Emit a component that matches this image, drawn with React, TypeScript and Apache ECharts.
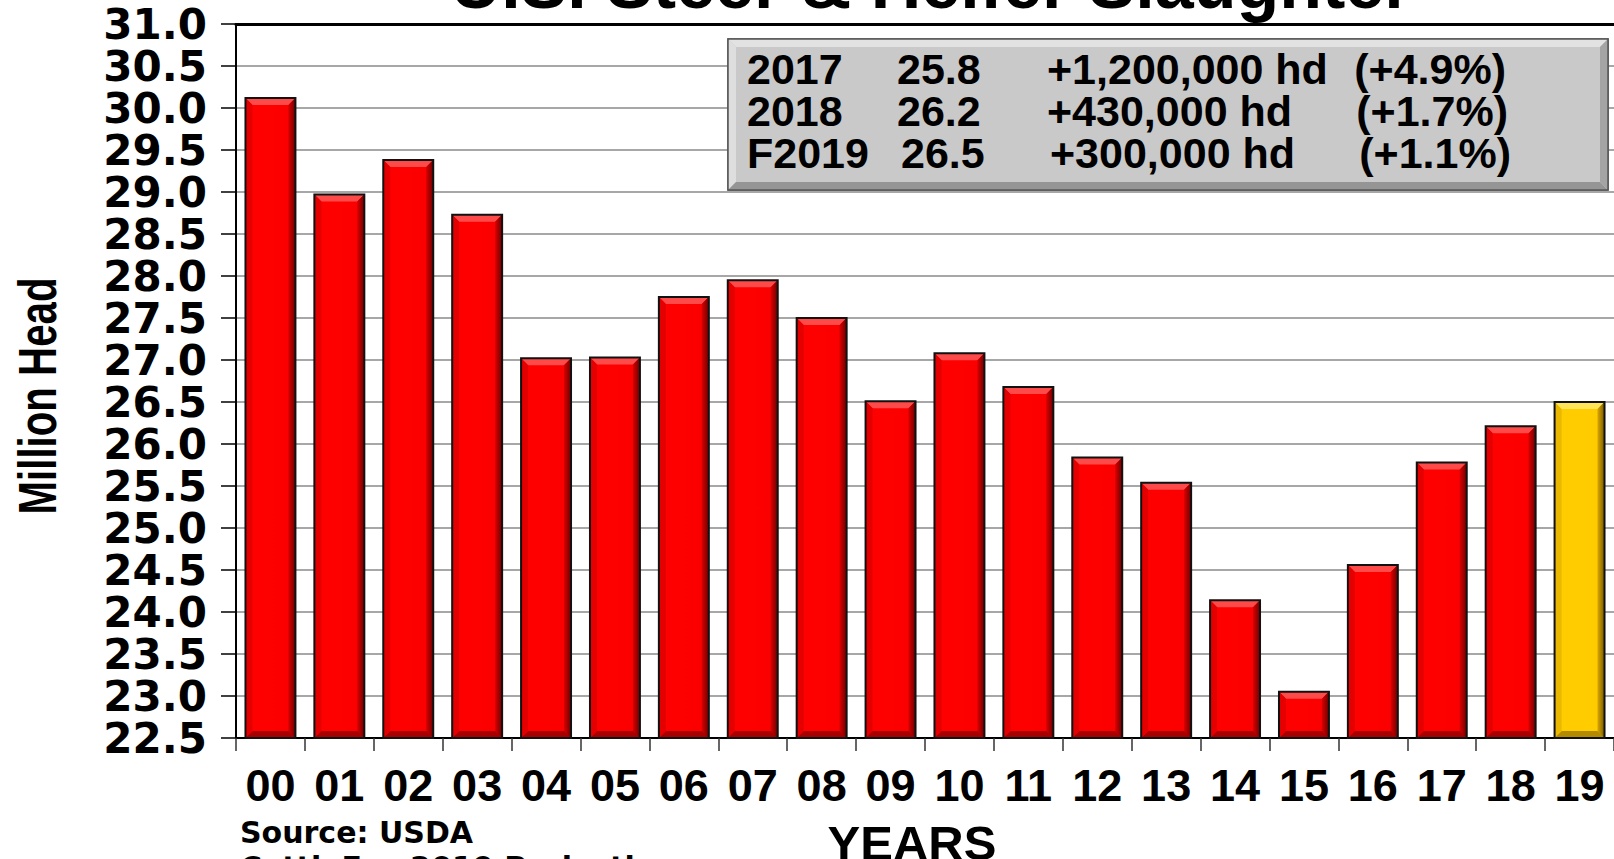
import React, { useEffect, useRef } from "react";
import * as echarts from "echarts";

const years = ["00","01","02","03","04","05","06","07","08","09","10","11","12","13","14","15","16","17","18","19"];
const slaughter = [30.12, 28.97, 29.38, 28.73, 27.02, 27.03, 27.75, 27.95, 27.5, 26.51, 27.08, 26.68, 25.84, 25.54, 24.14, 23.05, 24.56, 25.78, 26.21, 26.5];
const forecastIndex = 19;
const yMin = 22.5;
const yMax = 31;
const yStep = 0.5;
const titleText = "U.S. Steer & Heifer Slaughter";
const yName = "Million Head";
const xName = "YEARS";
const sourceLines = ["Source: USDA", "CattleFax 2019 Projection"];
const boxYears = ["2017", "2018", "F2019"];
const boxValues = ["25.8", "26.2", "26.5"];
const boxChanges = ["+1,200,000 hd", "+430,000 hd", "+300,000 hd"];
const boxPercents = ["(+4.9%)", "(+1.7%)", "(+1.1%)"];

const W = 1614;
const H = 859;
const GRID_LEFT = 236;
const GRID_TOP = 24;
const GRID_W = 1381;
const GRID_H = 714;

const SANS = "'Liberation Sans', Arial, Helvetica, sans-serif";
const WIDE = "'DejaVu Sans', Verdana, sans-serif";

function lin(stops: [number, string][], horizontal = true) {
  return {
    type: "linear",
    x: 0,
    y: 0,
    x2: horizontal ? 1 : 0,
    y2: horizontal ? 0 : 1,
    colorStops: stops.map(([offset, color]) => ({ offset, color })),
  };
}

export default function App() {
  const ref = useRef<HTMLDivElement>(null);

  useEffect(() => {
    if (!ref.current) return;
    const chart = echarts.init(ref.current, null, { renderer: "svg" });

    const barData = slaughter.map((v, i) => [i, v]);

    const renderBar = (params: any, api: any) => {
      const idx = api.value(0);
      const v = api.value(1);
      const top = api.coord([idx, v]);
      const base = api.coord([idx, yMin]);
      const w = api.size([1, 0])[0] * 0.725;
      const x0 = top[0] - w / 2;
      const x1 = top[0] + w / 2;
      const y0 = top[1];
      const y1 = base[1];
      const b = 7;
      const f = idx === forecastIndex;
      const main = f
        ? lin([[0, "#e0ac00"], [0.12, "#ffcc00"], [0.85, "#ffcc00"], [1, "#a87e00"]])
        : lin([[0, "#d00000"], [0.12, "#ff0000"], [0.85, "#fb0000"], [1, "#8a0000"]]);
      const light = f ? "#ffe45a" : "#ff4a4a";
      const dark = f ? "#b48a00" : "#a80000";
      const left = f ? "#eab800" : "#e40000";
      const right = f ? lin([[0, "#d9a600"], [1, "#7a5a00"]]) : lin([[0, "#d80000"], [1, "#6e0000"]]);
      return {
        type: "group",
        children: [
          { type: "rect", shape: { x: x0, y: y0, width: w, height: y1 - y0 }, style: { fill: main } },
          { type: "polygon", shape: { points: [[x0, y0], [x1, y0], [x1 - b, y0 + b], [x0 + b, y0 + b]] }, style: { fill: light } },
          { type: "polygon", shape: { points: [[x0, y1], [x1, y1], [x1 - b, y1 - b], [x0 + b, y1 - b]] }, style: { fill: dark } },
          { type: "polygon", shape: { points: [[x0, y0], [x0 + b, y0 + b], [x0 + b, y1 - b], [x0, y1]] }, style: { fill: left } },
          { type: "polygon", shape: { points: [[x1, y0], [x1 - b, y0 + b], [x1 - b, y1 - b], [x1, y1]] }, style: { fill: right } },
          { type: "rect", shape: { x: x0, y: y0, width: w, height: y1 - y0 }, style: { fill: "none", stroke: "#111", lineWidth: 2 } },
        ],
      };
    };

    // legend box geometry
    const bx0 = 728, by0 = 39, bx1 = 1608, by1 = 190, bb = 8;
    const rowY = [69, 111, 153];
    const colYear = 747;
    const colVal = [897, 897, 901];
    const colChg = [1047, 1047, 1050];
    const colPctRight = [1506, 1508, 1511];
    const boxFont = 43;

    const boxText: any[] = [];
    boxYears.forEach((t, i) => {
      const common = { fontFamily: SANS, fontWeight: "bold", fontSize: boxFont, lineHeight: 38, fill: "#000", verticalAlign: "middle" };
      boxText.push({ type: "text", z: 110, x: colYear, y: rowY[i], style: { ...common, text: t, align: "left" } });
      boxText.push({ type: "text", z: 110, x: colVal[i], y: rowY[i], style: { ...common, text: boxValues[i], align: "left" } });
      boxText.push({ type: "text", z: 110, x: colChg[i], y: rowY[i], style: { ...common, text: boxChanges[i], align: "left" } });
      boxText.push({ type: "text", z: 110, x: colPctRight[i], y: rowY[i], style: { ...common, text: boxPercents[i], align: "right" } });
    });

    const option: any = {
      animation: false,
      backgroundColor: "#ffffff",
      grid: { left: GRID_LEFT, top: GRID_TOP, width: GRID_W, height: GRID_H, containLabel: false },
      xAxis: [
        {
          type: "category",
          data: years,
          position: "bottom",
          axisLine: { onZero: false, lineStyle: { color: "#000", width: 2 } },
          axisTick: { show: true, interval: 0, length: 13, lineStyle: { color: "#333", width: 1.5 } },
          axisLabel: {
            interval: 0,
            margin: 27,
            color: "#000",
            fontFamily: SANS,
            fontWeight: "bold",
            fontSize: 45,
            lineHeight: 40,
          },
          splitLine: { show: false },
        },
        {
          type: "category",
          data: years,
          position: "top",
          axisLine: { show: true, onZero: false, lineStyle: { color: "#000", width: 3 } },
          axisTick: { show: false },
          axisLabel: { show: false },
          splitLine: { show: false },
        },
      ],
      yAxis: {
        type: "value",
        min: yMin,
        max: yMax,
        interval: yStep,
        axisLine: { show: true, lineStyle: { color: "#000", width: 2 } },
        axisTick: { show: true, length: 15, lineStyle: { color: "#000", width: 1.5 } },
        axisLabel: {
          margin: 29,
          color: "#000",
          fontFamily: WIDE,
          fontWeight: "bold",
          fontSize: 42,
          lineHeight: 36,
          formatter: (v: number) => v.toFixed(1),
        },
        splitLine: { show: true, lineStyle: { color: "#8a8a8a", width: 1.5 } },
      },
      series: [
        {
          type: "custom",
          name: "Slaughter",
          xAxisIndex: 0,
          yAxisIndex: 0,
          data: barData,
          encode: { x: 0, y: 1 },
          renderItem: renderBar,
          z: 5,
        },
      ],
      graphic: {
        elements: [
          {
            type: "text",
            z: 120,
            x: 931,
            y: -16,
            style: { text: titleText, fontFamily: SANS, fontWeight: "bold", fontSize: 70, fill: "#000", align: "center", verticalAlign: "middle" },
          },
          {
            type: "text",
            z: 120,
            x: 37,
            y: 396,
            rotation: Math.PI / 2,
            scaleX: 0.745,
            style: { text: yName, fontFamily: SANS, fontWeight: "bold", fontSize: 54, fill: "#000", align: "center", verticalAlign: "middle" },
          },
          {
            type: "text",
            z: 120,
            x: 912,
            y: 843,
            style: { text: xName, fontFamily: SANS, fontWeight: "bold", fontSize: 49, fill: "#000", align: "center", verticalAlign: "middle" },
          },
          {
            type: "text",
            z: 120,
            x: 240,
            y: 832,
            style: { text: sourceLines[0], fontFamily: WIDE, fontWeight: "bold", fontSize: 30, lineHeight: 30, fill: "#000", align: "left", verticalAlign: "middle" },
          },
          {
            type: "text",
            z: 120,
            x: 240,
            y: 867,
            style: { text: sourceLines[1], fontFamily: WIDE, fontWeight: "bold", fontSize: 30, lineHeight: 30, fill: "#000", align: "left", verticalAlign: "middle" },
          },
          // legend box
          {
            type: "rect",
            z: 100,
            shape: { x: bx0, y: by0, width: bx1 - bx0, height: by1 - by0 },
            style: { fill: "#c9c9c9", stroke: "#555", lineWidth: 1.5 },
          },
          {
            type: "polygon",
            z: 101,
            shape: { points: [[bx0, by0], [bx1, by0], [bx1 - bb, by0 + bb], [bx0 + bb, by0 + bb]] },
            style: { fill: "#e2e2e2" },
          },
          {
            type: "polygon",
            z: 101,
            shape: { points: [[bx0, by0], [bx0 + bb, by0 + bb], [bx0 + bb, by1 - bb], [bx0, by1]] },
            style: { fill: "#dedede" },
          },
          {
            type: "polygon",
            z: 101,
            shape: { points: [[bx0, by1], [bx1, by1], [bx1 - bb, by1 - bb], [bx0 + bb, by1 - bb]] },
            style: { fill: "#959595" },
          },
          {
            type: "polygon",
            z: 101,
            shape: { points: [[bx1, by0], [bx1 - bb, by0 + bb], [bx1 - bb, by1 - bb], [bx1, by1]] },
            style: { fill: "#a4a4a4" },
          },
          {
            type: "rect",
            z: 102,
            shape: { x: bx0, y: by0, width: bx1 - bx0, height: by1 - by0 },
            style: { fill: "none", stroke: "#555", lineWidth: 1.5 },
          },
          ...boxText,
        ],
      },
    };

    chart.setOption(option);
    return () => chart.dispose();
  }, []);

  return (
    <div
      ref={ref}
      style={{ position: "fixed", left: 0, top: 0, width: W, height: H, background: "#fff" }}
    />
  );
}
